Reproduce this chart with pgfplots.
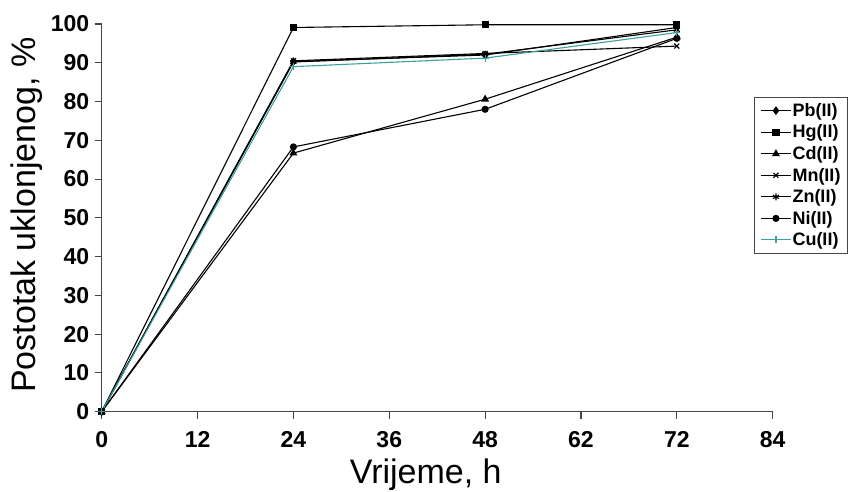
\documentclass[border=0pt]{standalone}
\usepackage{pgfplots}
\pgfplotsset{compat=1.18}
\usepackage{fontspec}
\setmainfont{Liberation Sans}
\definecolor{cucol}{RGB}{60,160,160}
\definecolor{axgray}{RGB}{70,70,70}
\begin{document}
\begin{tikzpicture}
\path[use as bounding box] (-101.7pt,-79.3pt) rectangle (752.3pt,411.7pt);
\begin{axis}[
  at={(0pt,0pt)}, anchor=south west,
  scale only axis, width=671pt, height=387.7pt,
  xmin=0, xmax=84, ymin=0, ymax=100,
  axis lines=left,
  axis line style={-, axgray, line width=1.3pt},
  clip=false,
  xtick={0,12,24,36,48,60,72,84},
  xticklabels={0,12,24,36,48,62,72,84},
  ytick={0,10,...,100},
  tick align=outside,
  major tick length=7pt,
  tick style={axgray, line width=1.1pt},
  /pgf/number format/assume math mode=true,
  tick label style={font=\fontsize{23}{26}\selectfont\bfseries},
  xticklabel style={yshift=-9pt},
  yticklabel style={xshift=-2pt},
  xlabel={Vrijeme, h},
  ylabel={Postotak uklonjenog, \%},
  xlabel style={at={(axis description cs:0.483,-0.184)}, anchor=base, font=\fontsize{34}{40}\selectfont},
  ylabel style={at={(axis description cs:-0.098,0.507)}, anchor=base, font=\fontsize{34}{40}\selectfont},
  every axis plot/.append style={line width=1.1pt},
  legend image code/.code={\draw[mark repeat=2,mark phase=2] plot coordinates {(0pt,0pt) (15pt,0pt) (30pt,0pt)};},
  legend style={at={(axis description cs:0.972,0.812)}, anchor=north west,
    draw=axgray, line width=1pt, font=\fontsize{18}{20}\selectfont\bfseries,
    row sep=5pt, inner xsep=6pt, inner ysep=5pt,
    cells={anchor=west}, nodes={inner sep=1pt}},
]
\addplot[black, mark=diamond*, mark size=3.5pt] coordinates {(0,0) (24,90.3) (48,92.0) (72,99.1)};
\addlegendentry{Pb(II)}
\addplot[black, mark=square*, mark size=3pt] coordinates {(0,0) (24,99.1) (48,99.8) (72,99.8)};
\addlegendentry{Hg(II)}
\addplot[black, mark=triangle*, mark size=3.5pt] coordinates {(0,0) (24,66.7) (48,80.6) (72,96.6)};
\addlegendentry{Cd(II)}
\addplot[black, mark=x, mark size=3.5pt] coordinates {(0,0) (24,90.5) (48,92.4) (72,94.3)};
\addlegendentry{Mn(II)}
\addplot[black, mark=asterisk, mark size=3.5pt] coordinates {(0,0) (24,90.2) (48,92.2) (72,98.5)};
\addlegendentry{Zn(II)}
\addplot[black, mark=*, mark size=3pt] coordinates {(0,0) (24,68.3) (48,78.0) (72,96.3)};
\addlegendentry{Ni(II)}
\addplot[cucol, mark=+, mark size=3.5pt] coordinates {(0,0) (24,89.0) (48,91.2) (72,97.8)};
\addlegendentry{Cu(II)}
\end{axis}
\end{tikzpicture}
\end{document}
